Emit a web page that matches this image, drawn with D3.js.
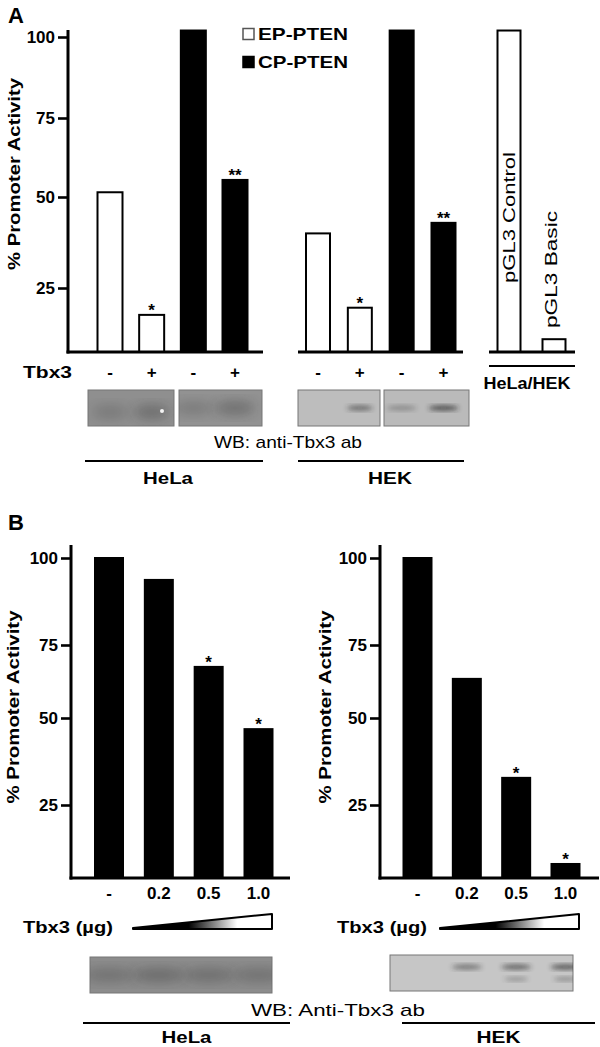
<!DOCTYPE html>
<html>
<head>
<meta charset="utf-8">
<script src="https://cdn.jsdelivr.net/npm/d3@7"></script>
<style>
  body { margin: 0; background: #fff; }
  svg { display: block; }
  text { font-family: "Liberation Sans", Arial, sans-serif; fill: #000; }
</style>
</head>
<body>
<svg id="fig"></svg>
<script>
// ---- Panel A data ----
const laneLabelsA = ["-", "+", "-", "+"]
const seriesA = ["EP-PTEN", "EP-PTEN", "CP-PTEN", "CP-PTEN"]
const helaA = [51.5, 14.5, 102, 55.4]
const hekA = [40, 17.3, 102, 42.9]
const starsA = ["", "*", "", "**"]
const controlLabels = ["pGL3 Control", "pGL3 Basic"]
const controlValues = [102, 5]
const legendItems = ["EP-PTEN", "CP-PTEN"]
const yTicks = [25, 50, 75, 100]

// ---- Panel B data ----
const doseLabels = ["-", "0.2", "0.5", "1.0"]
const helaB = [100, 93.7, 67.5, 46.8]
const hekB = [100, 63.4, 32.8, 4.8]
const starsB = ["", "", "*", "*"]

// Western blot band strength per lane (0 none .. 1 strong)
const blotHelaA = [0.35, 0.55, 0.35, 0.55]
const blotHekA = [0.0, 0.7, 0.4, 0.95]
const blotHelaB = [0.45, 0.55, 0.5, 0.45]
const blotHekB = [0.0, 0.65, 0.8, 0.9]

const W = 600, H = 1047
const svg = d3.select("#fig").attr("width", W).attr("height", H)
svg.append("rect").attr("width", W).attr("height", H).attr("fill", "#fff")

const defs = svg.append("defs")
defs.append("filter").attr("id", "blur").attr("x", "-50%").attr("y", "-50%").attr("width", "200%").attr("height", "200%")
    .append("feGaussianBlur").attr("stdDeviation", 2.6)
defs.append("filter").attr("id", "blur2").attr("x", "-50%").attr("y", "-50%").attr("width", "200%").attr("height", "200%")
    .append("feGaussianBlur").attr("stdDeviation", 6)
const grad = defs.append("linearGradient").attr("id", "wedge")
grad.append("stop").attr("offset", "0%").attr("stop-color", "#000")
grad.append("stop").attr("offset", "40%").attr("stop-color", "#000")
grad.append("stop").attr("offset", "75%").attr("stop-color", "#fff")

// small text helper
const label = (g, txt, x, y, o = {}) => {
    const t = g.append("text")
        .attr("x", x).attr("y", y)
        .attr("font-size", o.size || 17)
        .attr("font-weight", o.weight || "bold")
        .attr("text-anchor", o.anchor || "middle")
        .text(txt)
    if (o.dy) t.attr("dy", o.dy)
    if (o.w) t.attr("textLength", o.w).attr("lengthAdjust", "spacingAndGlyphs")
    if (o.rotate) t.attr("transform", `rotate(${o.rotate},${x},${y})`)
    return t
}

// y axis with thick lines, like the figure
const drawYAxis = (x, y, top) => {
    const g = svg.append("g").attr("transform", `translate(${x},0)`)
        .call(d3.axisLeft(y).tickValues(yTicks).tickSize(10).tickSizeOuter(0).tickPadding(3))
    g.select(".domain").remove()
    g.selectAll(".tick line").attr("stroke", "#000").attr("stroke-width", 2.6)
    g.selectAll(".tick text").attr("font-size", 17).attr("font-weight", "bold")
        .attr("font-family", "Liberation Sans, Arial, sans-serif").attr("fill", "#000")
    svg.append("line").attr("x1", x).attr("x2", x).attr("y1", y(0) + 1.5).attr("y2", top)
        .attr("stroke", "#000").attr("stroke-width", 3)
}

const baseline = (x1, x2, yv) => svg.append("line")
    .attr("x1", x1).attr("x2", x2).attr("y1", yv).attr("y2", yv)
    .attr("stroke", "#000").attr("stroke-width", 3)

const drawBars = (vals, x, y, bw, fillFn) => svg.append("g")
    .selectAll("rect").data(vals).enter().append("rect")
    .attr("x", (d, i) => x(i) - bw / 2)
    .attr("y", d => y(d))
    .attr("width", bw)
    .attr("height", d => y(0) - y(d))
    .attr("fill", (d, i) => fillFn(i))
    .attr("stroke", "#000").attr("stroke-width", 2)

const drawStars = (stars, vals, x, y) => svg.append("g")
    .selectAll("text").data(stars).enter().append("text")
    .attr("x", (d, i) => x(i)).attr("y", (d, i) => y(vals[i]) + 1)
    .attr("text-anchor", "middle").attr("font-size", 17).attr("font-weight", "bold")
    .text(d => d)

const drawLaneLabels = (labels, x, yv) => svg.append("g")
    .selectAll("text").data(labels).enter().append("text")
    .attr("x", (d, i) => x(i)).attr("y", yv)
    .attr("text-anchor", "middle").attr("font-size", 17).attr("font-weight", "bold")
    .text(d => d)

// blot: grey box with soft blurred bands per lane
const drawBlot = (x0, x1, y0, y1, base, lanes, x, bandY, bandW, thin) => {
    const g = svg.append("g")
    g.append("rect").attr("x", x0).attr("y", y0).attr("width", x1 - x0).attr("height", y1 - y0)
        .attr("fill", base).attr("stroke", "#777").attr("stroke-width", 1)
    const clipId = "c" + Math.round(x0) + "_" + Math.round(y0)
    defs.append("clipPath").attr("id", clipId).append("rect")
        .attr("x", x0).attr("y", y0).attr("width", x1 - x0).attr("height", y1 - y0)
    const inner = g.append("g").attr("clip-path", `url(#${clipId})`)
    inner.selectAll("ellipse.band").data(lanes).enter().append("ellipse")
        .attr("cx", d => x(d.i)).attr("cy", bandY)
        .attr("rx", bandW).attr("ry", thin ? 2.5 : 7)
        .attr("fill", "#222").attr("opacity", d => d.v * (thin ? 0.8 : 0.55))
        .attr("filter", thin ? "url(#blur)" : "url(#blur2)")
    return inner
}

// =================== PANEL A ===================
label(svg, "A", 8, 23, { size: 22, anchor: "start" })

const yA = d3.scaleLinear().domain([0, 25, 50, 75, 100]).range([352, 288, 197, 118, 37])
const xHelaA = d3.scalePoint().domain(d3.range(4)).range([110, 235])
const xHekA = d3.scalePoint().domain(d3.range(4)).range([318, 443.5])
const xCtrl = d3.scalePoint().domain(d3.range(2)).range([509, 554])
const fillA = i => seriesA[i] === "EP-PTEN" ? "#fff" : "#000"

drawYAxis(68, yA, 30)
label(svg, "% Promoter Activity", 14, 174, { size: 16, w: 192, rotate: -90, dy: "0.35em" })

drawBars(helaA, xHelaA, yA, 25, fillA)
drawBars(hekA, xHekA, yA, 24, fillA)
drawBars(controlValues, xCtrl, yA, 23, () => "#fff")
baseline(66.5, 263, yA(0))
baseline(298, 463, yA(0))
baseline(489, 575, yA(0))

drawStars(starsA, helaA, xHelaA, yA)
drawStars(starsA, hekA, xHekA, yA)

// rotated labels on the control bars
label(svg, controlLabels[0], xCtrl(0), 283, { size: 16, weight: "normal", anchor: "start", w: 131, rotate: -90, dy: "0.35em" })
label(svg, controlLabels[1], xCtrl(1) - 3, 328, { size: 16, weight: "normal", anchor: "start", w: 117, rotate: -90, dy: "0.35em" })

// legend
legendItems.forEach((name, i) => {
    const cy = 34 + i * 28
    svg.append("rect").attr("x", 243).attr("y", cy - 5.5).attr("width", 11).attr("height", 11)
        .attr("fill", i === 0 ? "#fff" : "#000").attr("stroke", i === 0 ? "#555" : "#000").attr("stroke-width", 1.5)
    label(svg, name, 258, cy + 6, { anchor: "start", w: 90 })
})

// Tbx3 row
label(svg, "Tbx3", 23, 378, { anchor: "start", w: 49 })
drawLaneLabels(laneLabelsA, xHelaA, 378)
drawLaneLabels(laneLabelsA, xHekA, 378)

// HeLa/HEK under control bars
baseline(489, 575, 366).attr("stroke-width", 2)
label(svg, "HeLa/HEK", 527, 389, { w: 87 })

// blots panel A
const lanesOf = (vals, ids) => ids.map(i => ({ i, v: vals[i] }))
drawBlot(88, 174, 390, 426, "#8f8f8f", lanesOf(blotHelaA, [0, 1]), xHelaA, 412, 18)
drawBlot(179, 262, 390, 426, "#929292", lanesOf(blotHelaA, [2, 3]), xHelaA, 408, 20)
drawBlot(298, 380, 390, 426, "#bdbdbd", lanesOf(blotHekA, [0, 1]), xHekA, 408, 13, true)
drawBlot(384, 469, 390, 426, "#bababa", lanesOf(blotHekA, [2, 3]), xHekA, 408, 15, true)
// light spot in HeLa blot
svg.append("circle").attr("cx", 162).attr("cy", 411).attr("r", 2).attr("fill", "#f4f4f4")

label(svg, "WB: anti-Tbx3 ab", 288, 448, { weight: "normal", w: 148 })
baseline(85, 263, 461).attr("stroke-width", 2)
baseline(298, 464, 461).attr("stroke-width", 2)
label(svg, "HeLa", 168, 484, { w: 50 })
label(svg, "HEK", 390, 484, { w: 44 })

// =================== PANEL B ===================
label(svg, "B", 8, 530, { size: 22, anchor: "start" })

const yB = d3.scaleLinear().domain([0, 25, 50, 75, 100]).range([878, 805, 718, 645, 558])
const xHelaB = d3.scalePoint().domain(d3.range(4)).range([109, 258.5])
const xHekB = d3.scalePoint().domain(d3.range(4)).range([417.5, 565.5])

const drawPanelB = (vals, x, axisX, axisEnd, labX, tbxX, wedge, blot, bands, underline, cell) => {
    drawYAxis(axisX, yB, 545)
    label(svg, "% Promoter Activity", labX, 707, { size: 16, w: 193, rotate: -90, dy: "0.35em" })
    drawBars(vals, x, yB, 28, () => "#000")
    baseline(axisX - 1.5, axisEnd, yB(0))
    drawStars(starsB, vals, x, yB)
    drawLaneLabels(doseLabels, x, 899)
    label(svg, "Tbx3 (\u00b5g)", tbxX, 933, { anchor: "start", w: 90 })
    // dose wedge
    const [w0, w1] = wedge
    svg.append("path")
        .attr("d", d3.line()([[w0, 928], [w1, 914], [w1, 929], [w0, 929]]) + "Z")
        .attr("fill", "url(#wedge)").attr("stroke", "#000").attr("stroke-width", 2).attr("stroke-linejoin", "round")
    const inner = drawBlot(blot[0], blot[1], blot[2], blot[3], blot[4],
        bands.map((v, i) => ({ i, v })), x, blot[5], blot[6] ? 15 : 26, blot[6])
    if (blot[6]) {
        // faint second band in the HEK blot
        inner.selectAll("ellipse.b2").data(bands.slice(2)).enter().append("ellipse")
            .attr("cx", (d, i) => x(i + 2)).attr("cy", blot[5] + 12)
            .attr("rx", 12).attr("ry", 2).attr("fill", "#333").attr("opacity", d => d * 0.45)
            .attr("filter", "url(#blur)")
    }
    baseline(underline[0], underline[1], 1023).attr("stroke-width", 2)
    label(svg, cell, (underline[0] + underline[1]) / 2, 1043, { w: cell === "HeLa" ? 50 : 44 })
}

drawPanelB(helaB, xHelaB, 71, 290, 13, 23, [133, 272],
    [90, 272, 957, 993, "#8c8c8c", 975, false], blotHelaB, [83, 290], "HeLa")
drawPanelB(hekB, xHekB, 380, 599, 325, 337, [440, 579],
    [390, 573, 955, 991, "#c6c6c6", 967, true], blotHekB, [402, 595], "HEK")

label(svg, "WB: Anti-Tbx3 ab", 338, 1016, { weight: "normal", w: 174 })
</script>
</body>
</html>
